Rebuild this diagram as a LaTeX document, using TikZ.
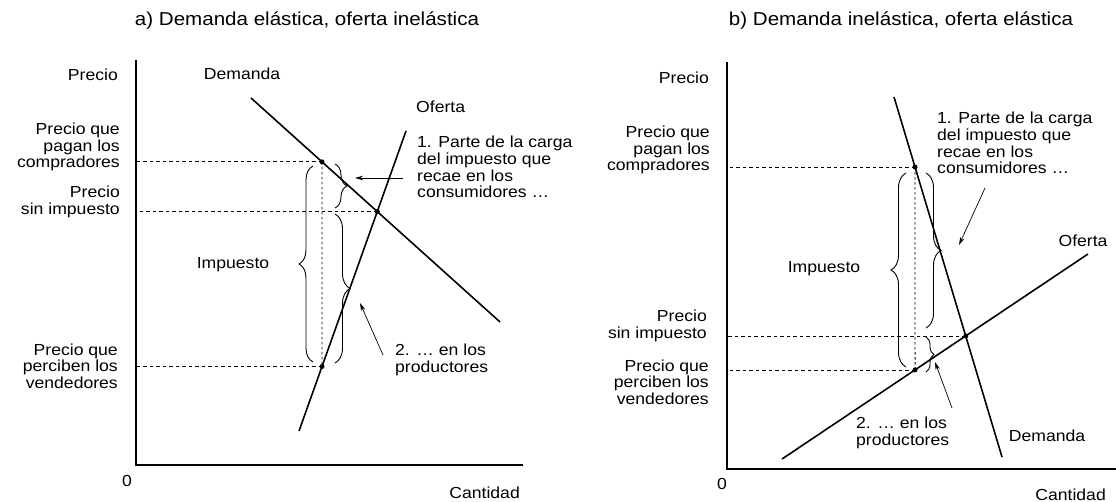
\documentclass[tikz,border=0pt]{standalone}
\usepackage{fontspec}
\setmainfont{Liberation Sans}[FakeStretch=1.1]
\usetikzlibrary{arrows.meta,decorations.pathreplacing}

\tikzset{
  lbl/.style={font=\fontsize{16}{16.7}\selectfont, inner sep=0pt},
  ttl/.style={font=\fontsize{18.7}{20}\selectfont, inner sep=0pt},
  curve/.style={line width=1.6pt},
  axis/.style={line width=1.4pt},
  guide/.style={line width=0.8pt, dash pattern=on 3.5pt off 3pt},
  qline/.style={line width=0.9pt, dash pattern=on 2.5pt off 2.5pt},
  tbrace/.style={decorate, decoration={brace, amplitude=#1}, line width=0.9pt},
  pointer/.style={-{Stealth[length=8pt,width=4.5pt]}, line width=0.7pt},
  pdot/.style={circle, fill, inner sep=0pt, minimum size=5pt}
}

\begin{document}
\begin{tikzpicture}[x=1pt, y=-1pt]
    \useasboundingbox (0,0) rectangle (1116,502);

    % ---------- a) Demanda elastica, oferta inelastica ----------
    \node[ttl] (titleA) at (307,21) {a) Demanda elástica, oferta inelástica};

    % Axes
    \coordinate (yA) at (136,60);
    \coordinate (oA) at (136,465);
    \coordinate (xA) at (523,465);
    \draw[axis] (yA) -- (oA) -- (xA);

    % Demand and supply
    \coordinate (dA1) at (251,98);
    \coordinate (dA2) at (500,322);
    \coordinate (sA1) at (299,431);
    \coordinate (sA2) at (406,131);
    \draw[curve] (dA1) -- (dA2);
    \draw[curve] (sA1) -- (sA2);

    % Quantity with tax
    \coordinate (qA1) at (322,100);
    \coordinate (qA2) at (322,420);
    \coordinate (eqA) at (intersection of dA1--dA2 and sA1--sA2);
    \coordinate (bA) at (intersection of dA1--dA2 and qA1--qA2);
    \coordinate (vA) at (intersection of sA1--sA2 and qA1--qA2);

    % Price lines
    \draw[guide] (bA) -- (oA |- bA);
    \draw[guide] (eqA) -- (oA |- eqA);
    \draw[guide] (vA) -- (oA |- vA);
    \draw[qline] (bA) -- (vA);
    \node[pdot] (pbA) at (bA) {};
    \node[pdot] (peA) at (eqA) {};
    \node[pdot] (pvA) at (vA) {};

    % Braces
    \draw[tbrace=14pt] (313,362) -- (313,166);
    \draw[tbrace=12pt] (335,164) -- (335,208);
    \draw[tbrace=15pt] (335,214) -- (335,363);

    % Labels
    \node[lbl, anchor=east] (precioA) at (118,75) {Precio};
    \node[lbl, anchor=east, align=right] (compA) at (120,147) {Precio que\\pagan los\\compradores};
    \node[lbl, anchor=east, align=right] (sinA) at (120,202) {Precio\\sin impuesto};
    \node[lbl, anchor=east, align=right] (vendA) at (118,366) {Precio que\\perciben los\\vendedores};
    \node[lbl] (demA) at (242,74) {Demanda};
    \node[lbl, anchor=west] (ofA) at (416,107) {Oferta};
    \node[lbl] (impA) at (233,265) {Impuesto};
    \node[lbl, anchor=north west, align=left] (txtA1) at (417,136) {1. Parte de la carga\\del impuesto que\\recae en los\\consumidores \dots};
    \node[lbl, anchor=north west, align=left] (txtA2) at (395,344) {2. \dots{} en los\\productores};
    \node[lbl] (zeroA) at (127,481) {0};
    \node[lbl, anchor=east] (cantA) at (520,493) {Cantidad};

    % Pointers
    \coordinate (tA1) at (403,178);
    \coordinate (hA1) at (355,178);
    \coordinate (tA2) at (383,355);
    \coordinate (hA2) at (360,303);
    \draw[pointer] (tA1) -- (hA1);
    \draw[pointer] (tA2) -- (hA2);

    % ---------- b) Demanda inelastica, oferta elastica ----------
    \node[ttl] (titleB) at (901,21) {b) Demanda inelástica, oferta elástica};

    % Axes
    \coordinate (yB) at (727,62);
    \coordinate (oB) at (727,469);
    \coordinate (xB) at (1116,469);
    \draw[axis] (yB) -- (oB) -- (xB);

    % Demand and supply
    \coordinate (dB1) at (894,97);
    \coordinate (dB2) at (1002,457);
    \coordinate (sB1) at (782,459);
    \coordinate (sB2) at (1088,254);
    \draw[curve] (dB1) -- (dB2);
    \draw[curve] (sB1) -- (sB2);

    % Quantity with tax
    \coordinate (qB1) at (915,100);
    \coordinate (qB2) at (915,420);
    \coordinate (eqB) at (intersection of dB1--dB2 and sB1--sB2);
    \coordinate (bB) at (intersection of dB1--dB2 and qB1--qB2);
    \coordinate (vB) at (intersection of sB1--sB2 and qB1--qB2);

    % Price lines
    \draw[guide] (bB) -- (oB |- bB);
    \draw[guide] (eqB) -- (oB |- eqB);
    \draw[guide] (vB) -- (oB |- vB);
    \draw[qline] (bB) -- (vB);
    \node[pdot] (pbB) at (bB) {};
    \node[pdot] (peB) at (eqB) {};
    \node[pdot] (pvB) at (vB) {};

    % Braces
    \draw[tbrace=15pt] (906,367) -- (906,173);
    \draw[tbrace=15pt] (926,173) -- (926,328);
    \draw[tbrace=8pt] (926,337) -- (926,372);

    % Labels
    \node[lbl, anchor=east] (precioB) at (709,78) {Precio};
    \node[lbl, anchor=east, align=right] (compB) at (710,150) {Precio que\\pagan los\\compradores};
    \node[lbl, anchor=east, align=right] (sinB) at (707,326) {Precio\\sin impuesto};
    \node[lbl, anchor=east, align=right] (vendB) at (709,382) {Precio que\\perciben los\\vendedores};
    \node[lbl, anchor=north west, align=left] (txtB1) at (937,112) {1. Parte de la carga\\del impuesto que\\recae en los\\consumidores \dots};
    \node[lbl] (ofB) at (1083,241) {Oferta};
    \node[lbl] (impB) at (824,269) {Impuesto};
    \node[lbl, anchor=north west, align=left] (txtB2) at (856,417) {2. \dots{} en los\\productores};
    \node[lbl] (demB) at (1047,436) {Demanda};
    \node[lbl] (zeroB) at (722,484) {0};
    \node[lbl, anchor=east] (cantB) at (1106,495) {Cantidad};

    % Pointers
    \coordinate (tB1) at (985,188);
    \coordinate (hB1) at (959,245);
    \coordinate (tB2) at (952,408);
    \coordinate (hB2) at (935,362);
    \draw[pointer] (tB1) -- (hB1);
    \draw[pointer] (tB2) -- (hB2);
\end{tikzpicture}
\end{document}
